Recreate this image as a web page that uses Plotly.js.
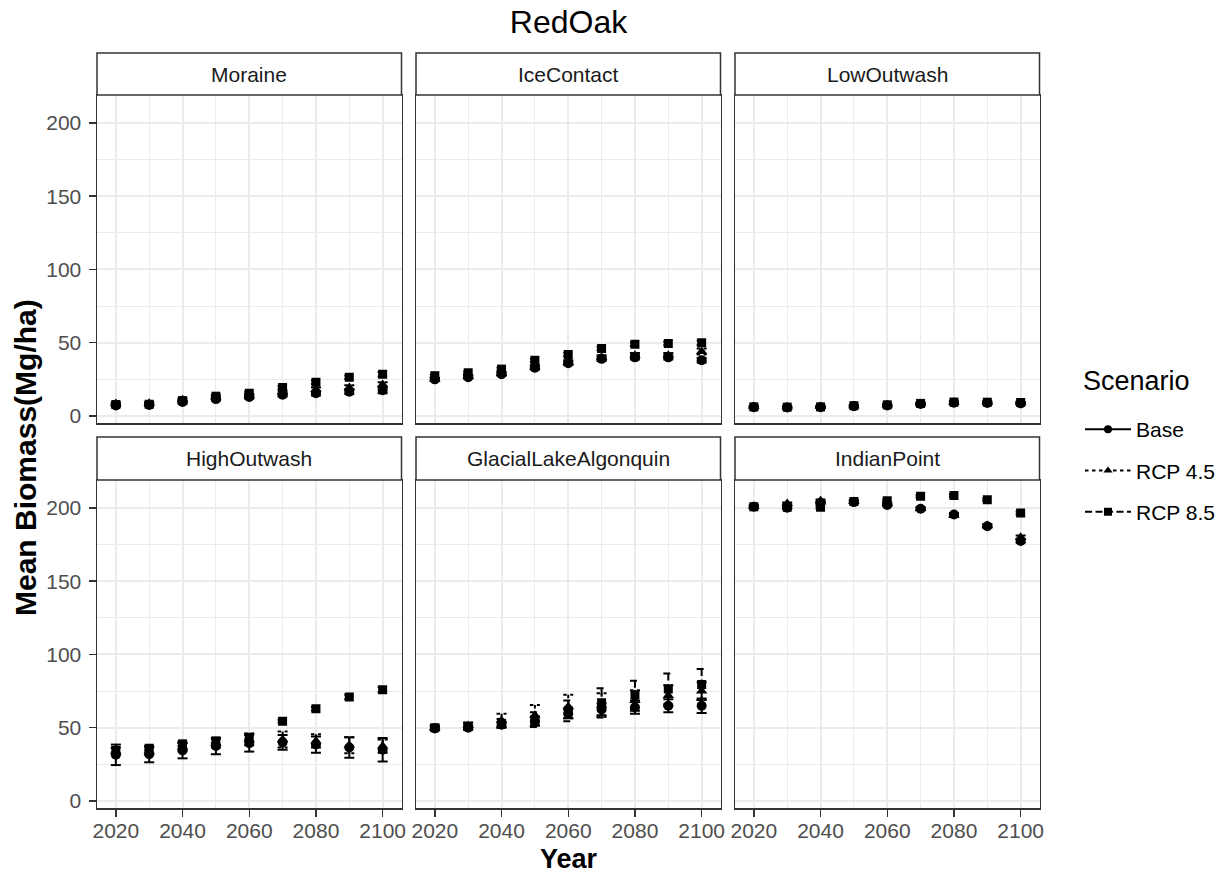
<!DOCTYPE html>
<html>
<head>
<meta charset="utf-8">
<script src="https://cdn.plot.ly/plotly-3.0.1.min.js"></script>
<style>
  html, body { margin: 0; padding: 0; background: #ffffff; }
  #chart { width: 1228px; height: 873px; }
</style>
</head>
<body>
<div id="chart"></div>
<script>
// ---- data -------------------------------------------------------------
const YEARS = [2020, 2030, 2040, 2050, 2060, 2070, 2080, 2090, 2100];
const SITES = ['Moraine', 'IceContact', 'LowOutwash', 'HighOutwash', 'GlacialLakeAlgonquin', 'IndianPoint'];
const SCENARIOS = ['Base', 'RCP 4.5', 'RCP 8.5'];
const Y_TICKS = [0, 50, 100, 150, 200];
const X_TICKS = [2020, 2040, 2060, 2080, 2100];

// mean biomass (Mg/ha), rows: Base, RCP 4.5, RCP 8.5
const MORAINE_MEAN = [
  [7.2, 7.5, 9.5, 11.5, 13.0, 14.5, 15.5, 16.5, 17.5],
  [8.5, 8.7, 11.0, 13.0, 14.0, 16.0, 18.0, 19.5, 21.5],
  [7.8, 8.0, 10.5, 13.5, 15.5, 19.5, 23.0, 26.5, 28.5]
];
const MORAINE_SD = [
  [0.8, 0.8, 1.0, 1.0, 1.2, 1.2, 1.5, 1.5, 2.0],
  [0.8, 0.8, 1.0, 1.0, 1.2, 1.2, 1.5, 1.5, 1.5],
  [0.6, 0.6, 0.8, 0.8, 1.0, 1.0, 1.2, 1.2, 1.5]
];

const ICECONTACT_MEAN = [
  [25.0, 26.5, 28.5, 33.0, 36.0, 39.0, 40.0, 40.0, 38.0],
  [25.0, 27.0, 29.0, 33.5, 36.5, 40.0, 41.5, 41.5, 44.0],
  [27.5, 29.5, 32.0, 38.0, 42.0, 46.0, 49.0, 49.5, 50.0]
];
const ICECONTACT_SD = [
  [1.0, 1.0, 1.0, 1.2, 1.2, 1.5, 1.5, 1.5, 1.5],
  [1.0, 1.0, 1.0, 1.2, 1.5, 1.5, 1.5, 1.5, 2.0],
  [0.8, 0.8, 1.0, 1.0, 1.2, 1.2, 1.2, 1.2, 1.5]
];

const LOWOUTWASH_MEAN = [
  [6.0, 5.8, 6.0, 6.7, 7.2, 8.2, 9.0, 8.8, 8.6],
  [6.4, 6.1, 6.4, 7.0, 7.5, 8.4, 9.2, 9.2, 9.0],
  [6.2, 6.0, 6.2, 7.0, 7.6, 8.6, 9.5, 9.4, 9.2]
];
const LOWOUTWASH_SD = [
  [0.5, 0.5, 0.5, 0.5, 0.5, 0.6, 0.6, 0.6, 0.6],
  [0.5, 0.5, 0.5, 0.5, 0.5, 0.6, 0.6, 0.6, 0.6],
  [0.4, 0.4, 0.4, 0.5, 0.5, 0.5, 0.6, 0.6, 0.6]
];

const HIGHOUTWASH_MEAN = [
  [31.5, 32.0, 34.5, 37.5, 39.5, 40.0, 38.5, 36.5, 35.0],
  [34.0, 34.0, 37.0, 39.5, 42.0, 42.0, 41.0, 38.0, 37.5],
  [34.5, 36.0, 39.0, 41.0, 43.5, 54.5, 63.0, 71.0, 76.0]
];
const HIGHOUTWASH_SD = [
  [7.0, 5.6, 5.4, 5.6, 5.8, 5.0, 5.5, 7.0, 8.0],
  [2.5, 2.5, 2.5, 3.0, 4.0, 5.5, 4.5, 5.5, 4.5],
  [1.5, 1.5, 1.5, 1.5, 1.5, 1.0, 1.2, 1.5, 1.8]
];

const GLACIALLAKE_MEAN = [
  [49.5, 50.0, 52.0, 54.5, 59.5, 62.5, 64.0, 65.0, 65.0],
  [50.0, 51.5, 55.0, 58.5, 64.5, 65.5, 68.5, 72.0, 75.0],
  [50.0, 51.0, 53.0, 55.5, 61.5, 67.0, 72.5, 76.5, 79.5]
];
const GLACIALLAKE_SD = [
  [1.0, 1.5, 2.0, 3.0, 3.0, 4.0, 4.5, 4.5, 5.0],
  [1.5, 2.0, 4.5, 7.0, 8.0, 8.0, 7.0, 7.0, 6.0],
  [1.5, 2.0, 3.0, 5.0, 7.0, 10.0, 9.5, 10.5, 10.5]
];

const INDIANPOINT_MEAN = [
  [200.8, 200.2, 203.5, 204.0, 202.0, 199.5, 195.5, 187.5, 177.5],
  [201.0, 203.0, 205.0, 204.5, 203.0, 199.5, 195.0, 188.0, 180.0],
  [200.8, 200.5, 200.5, 204.5, 205.0, 208.0, 208.5, 205.7, 196.5]
];
const INDIANPOINT_SD = [
  [0.8, 0.8, 0.8, 0.8, 0.8, 0.8, 1.0, 1.0, 1.2],
  [0.8, 0.8, 0.8, 0.8, 0.8, 0.8, 1.0, 1.0, 1.2],
  [0.8, 0.8, 0.8, 0.8, 0.8, 0.8, 0.8, 0.8, 1.0]
];

const SITE_MEANS = [MORAINE_MEAN, ICECONTACT_MEAN, LOWOUTWASH_MEAN, HIGHOUTWASH_MEAN, GLACIALLAKE_MEAN, INDIANPOINT_MEAN];
const SITE_SDS = [MORAINE_SD, ICECONTACT_SD, LOWOUTWASH_SD, HIGHOUTWASH_SD, GLACIALLAKE_SD, INDIANPOINT_SD];

// ---- styling ----------------------------------------------------------
const FONT = 'Liberation Sans, Arial, Helvetica, sans-serif';
const SYMBOLS = ['circle', 'triangle-up', 'square'];
const SYMBOL_SIZES = [10, 10, 9];
const DASHES = ['solid', '3.5px,3.5px', '7px,3.5px'];
const CAP = 1.5;                 // half width of error bar caps, in years
const GRID = '#EBEBEB';
const INK = '#333333';

const W = 1228, H = 873;
const px = v => v / W;
const py = v => 1 - v / H;
const COL_X = [[97, 401.5], [416, 720.5], [735, 1039.5]];
const ROW_Y = [[95, 423], [480, 808]];
const STRIP_Y = [[53, 95], [437, 480]];

// error bar drawn as caps + stem, broken by gaps
function errorPath(means, sds) {
  const xs = [], ys = [];
  YEARS.forEach((yr, i) => {
    const lo = means[i] - sds[i], hi = means[i] + sds[i];
    xs.push(yr - CAP, yr + CAP, null, yr, yr, null, yr - CAP, yr + CAP, null);
    ys.push(hi, hi, null, hi, lo, null, lo, lo, null);
  });
  return { xs, ys };
}

const traces = [];
const layout = {
  width: W, height: H,
  margin: { l: 0, r: 0, t: 0, b: 0 },
  paper_bgcolor: '#ffffff',
  plot_bgcolor: '#ffffff',
  font: { family: FONT, color: '#000000' },
  showlegend: true,
  title: {
    text: 'RedOak', xref: 'paper', yref: 'paper',
    x: px(568.5), y: py(22), xanchor: 'center', yanchor: 'middle',
    font: { family: FONT, size: 32, color: '#000000' }
  },
  legend: {
    x: px(1080), xanchor: 'left', y: py(409), yanchor: 'top',
    bgcolor: 'rgba(0,0,0,0)', borderwidth: 0,
    font: { family: FONT, size: 21, color: '#000000' },
    tracegroupgap: 11, itemwidth: 46
  },
  shapes: [], annotations: []
};

SITES.forEach((site, k) => {
  const r = Math.floor(k / 3), c = k % 3;
  const n = k + 1;
  const xKey = n === 1 ? 'xaxis' : 'xaxis' + n;
  const yKey = n === 1 ? 'yaxis' : 'yaxis' + n;
  const xRef = n === 1 ? 'x' : 'x' + n;
  const yRef = n === 1 ? 'y' : 'y' + n;

  layout[xKey] = {
    domain: [px(COL_X[c][0]), px(COL_X[c][1])],
    anchor: yRef, range: [2014.35, 2105.65],
    tickvals: X_TICKS, ticktext: X_TICKS.map(String),
    showticklabels: r === 1, ticks: r === 1 ? 'outside' : '',
    ticklen: 7, tickwidth: 1.5, tickcolor: INK, ticklabelstandoff: -4,
    tickfont: { family: FONT, size: 21, color: '#4D4D4D' },
    showgrid: true, gridcolor: GRID, gridwidth: 2,
    minor: { tick0: 2030, dtick: 20, showgrid: true, gridcolor: GRID, gridwidth: 1, ticks: '' },
    zeroline: false, showline: true, mirror: true, linecolor: INK, linewidth: 1.5,
    fixedrange: true
  };
  layout[yKey] = {
    domain: [py(ROW_Y[r][1]), py(ROW_Y[r][0])],
    anchor: xRef, range: [-4.8, 219.1],
    tickvals: Y_TICKS, ticktext: Y_TICKS.map(String),
    showticklabels: c === 0, ticks: c === 0 ? 'outside' : '',
    ticklen: 7, tickwidth: 1.5, tickcolor: INK, ticklabelstandoff: 3,
    tickfont: { family: FONT, size: 21, color: '#4D4D4D' },
    showgrid: true, gridcolor: GRID, gridwidth: 2,
    minor: { tick0: 25, dtick: 50, showgrid: true, gridcolor: GRID, gridwidth: 1, ticks: '' },
    zeroline: false, showline: true, mirror: true, linecolor: INK, linewidth: 1.5,
    fixedrange: true
  };

  // facet strip
  layout.shapes.push({
    type: 'rect', xref: 'paper', yref: 'paper',
    x0: px(COL_X[c][0]), x1: px(COL_X[c][1]),
    y0: py(STRIP_Y[r][1]), y1: py(STRIP_Y[r][0]),
    fillcolor: '#ffffff', line: { color: INK, width: 1.5 }
  });
  layout.annotations.push({
    text: site, xref: 'paper', yref: 'paper',
    x: px((COL_X[c][0] + COL_X[c][1]) / 2), y: py((STRIP_Y[r][0] + STRIP_Y[r][1]) / 2),
    xanchor: 'center', yanchor: 'middle', showarrow: false,
    font: { family: FONT, size: 21, color: '#1A1A1A' }
  });

  SCENARIOS.forEach((sc, s) => {
    const means = SITE_MEANS[k][s];
    const sds = SITE_SDS[k][s];
    const eb = errorPath(means, sds);
    traces.push({
      type: 'scatter', mode: 'lines', x: eb.xs, y: eb.ys,
      xaxis: xRef, yaxis: yRef, showlegend: false, hoverinfo: 'skip',
      line: { color: '#000000', width: 2, dash: DASHES[s] }, connectgaps: false
    });
    traces.push({
      type: 'scatter', mode: 'markers', x: YEARS, y: means,
      xaxis: xRef, yaxis: yRef, showlegend: false, name: sc,
      marker: { symbol: SYMBOLS[s], size: SYMBOL_SIZES[s], color: '#000000', line: { width: 0 } }
    });
  });
});

// legend keys
SCENARIOS.forEach((sc, s) => {
  traces.push({
    type: 'scatter', mode: 'lines+markers', x: [null], y: [null],
    xaxis: 'x', yaxis: 'y', name: sc, legendgroup: sc, showlegend: true,
    line: { color: '#000000', width: 2, dash: DASHES[s] },
    marker: { symbol: SYMBOLS[s], size: 8, color: '#000000' }
  });
});

// legend heading
layout.annotations.push({
  text: 'Scenario', xref: 'paper', yref: 'paper', x: px(1081), y: py(381),
  xanchor: 'left', yanchor: 'middle', showarrow: false,
  font: { family: FONT, size: 27, color: '#000000' }
});

// axis titles
layout.annotations.push({
  text: 'Year', xref: 'paper', yref: 'paper', x: px(568.5), y: py(859),
  xanchor: 'center', yanchor: 'middle', showarrow: false,
  font: { family: FONT, size: 27, color: '#000000', weight: 'bold' }
});
layout.annotations.push({
  text: 'Mean Biomass(Mg/ha)', xref: 'paper', yref: 'paper', x: px(25), y: py(458),
  xanchor: 'center', yanchor: 'middle', showarrow: false, textangle: -90,
  font: { family: FONT, size: 30, color: '#000000', weight: 'bold' }
});

Plotly.newPlot('chart', traces, layout, { staticPlot: true, displayModeBar: false });
</script>
</body>
</html>
